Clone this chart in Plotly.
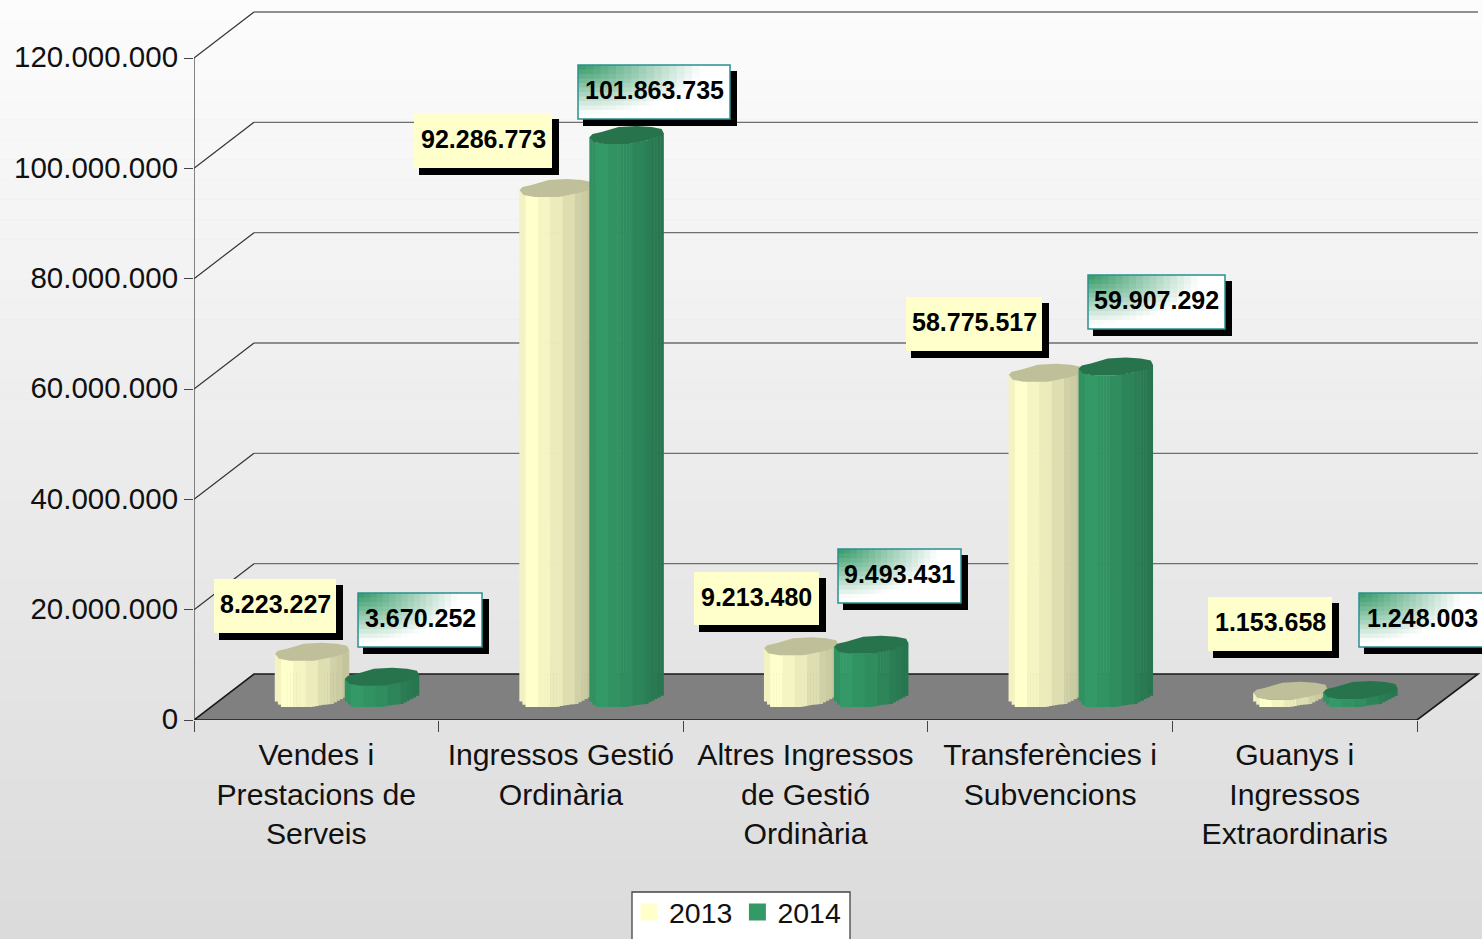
import numpy as np
import plotly.graph_objects as go

# ---- data ----
categories = ["Vendes i<br>Prestacions de<br>Serveis", "Ingressos Gestió<br>Ordinària",
              "Altres Ingressos<br>de Gestió<br>Ordinària", "Transferències i<br>Subvencions",
              "Guanys i<br>Ingressos<br>Extraordinaris"]
values_2013 = [8223227, 92286773, 9213480, 58775517, 1153658]
values_2014 = [3670252, 101863735, 9493431, 59907292, 1248003]
y_ticks = [0, 20000000, 40000000, 60000000, 80000000, 100000000, 120000000]

# ---- geometry / style ----
W, H = 1482, 939
AX_L, CAT_W = 194, 244.6
Y0_PX, Y120_PX = 720, 58
SCALE = (Y0_PX - Y120_PX) / 120e6
BAR_Y0_PX = 698
DEPTH_X, DEPTH_Y = 60, 46
BAR_LEFT, BAR_W, BAR_STEP = 81, 74, 70
COL_2013, COL_2014 = (255, 255, 204), (51, 153, 102)
FACETS = [0.95, 0.95, 1.0, 1.0, 1.0, 1.0, 0.96, 0.96, 0.96, 0.96, 0.92, 0.92, 0.92, 0.92,
          0.87, 0.87, 0.87, 0.87, 0.82, 0.82, 0.8, 0.8, 0.77, 0.77]
FONT = "Liberation Sans, Arial, sans-serif"
TOP_OUTLINE = [(0, 1), (3, -2), (12, -4), (29, -9), (47, -10), (62, -9), (72, -7), (74, -3), (70, 1),
               (59, 4), (39, 8), (15, 8), (4, 6)]
TOP_FRONT = ([0, 4, 15, 39, 59, 70, 74], [1, 6, 8, 8, 4, 1, -3])
BOTTOM_FRONT = ([0, 7, 37, 47, 57, 74], [2, 9, 9, 7, 6, -3])
LABEL_BOXES_2013 = [(214, 579, 336, 633), (414, 113, 552, 168), (694, 572, 819, 625), (906, 297, 1042, 351), (1208, 597, 1332, 651)]
LABEL_BOXES_2014 = [(358, 593, 482, 647), (578, 65, 730, 119), (838, 549, 961, 603), (1088, 275, 1225, 329), (1359, 593, 1485, 647)]


def ux(px):
    return (px - AX_L) / CAT_W - 0.5


def rgb(c, f=1.0):
    return "rgb(%d,%d,%d)" % tuple(int(round(v * f)) for v in c)


def fmt(v):
    return f"{v:,}".replace(",", ".")


def paper_x(px):
    return px / W


def paper_y(py):
    return 1 - py / H


fig = go.Figure()

# legend entries and main subplot carrier
fig.add_trace(go.Bar(x=[0], y=[None], name="2013", xaxis="x", yaxis="y",
                     marker=dict(color=rgb(COL_2013), line=dict(color=rgb(COL_2013), width=5))))
fig.add_trace(go.Bar(x=[0], y=[None], name="2014", xaxis="x", yaxis="y",
                     marker=dict(color=rgb(COL_2014), line=dict(color=rgb(COL_2014), width=5))))


def add_cylinder(cat, value, step, color, xa, ya, name):
    left_px = AX_L + cat * CAT_W + BAR_LEFT + step
    n = len(FACETS)
    sw = BAR_W / n
    for i, f in enumerate(FACETS):
        a, b = i * sw, (i + 1) * sw
        top_off = min(np.interp(a, *TOP_FRONT), np.interp(b, *TOP_FRONT))
        bot_off = np.interp((a + b) / 2, *BOTTOM_FRONT)
        base = -bot_off / SCALE
        top = value - top_off / SCALE
        fig.add_trace(go.Bar(x=[ux(left_px + (a + b) / 2)], y=[top - base], base=[base],
                             width=[(sw + 0.5) / CAT_W], xaxis=xa, yaxis=ya, showlegend=False,
                             hoverinfo="skip", name=name,
                             marker=dict(color=rgb(color, f), line=dict(width=0))))
    fig.add_trace(go.Scatter(x=[ux(left_px + p[0]) for p in TOP_OUTLINE],
                             y=[value - p[1] / SCALE for p in TOP_OUTLINE],
                             mode="lines", fill="toself", line=dict(width=0), showlegend=False,
                             fillcolor=rgb(color, 0.75), hoverinfo="skip", xaxis=xa, yaxis=ya, name=name))


for c, v in enumerate(values_2013):
    add_cylinder(c, v, 0, COL_2013, "x", "y2", "2013")
for c, v in enumerate(values_2014):
    add_cylinder(c, v, BAR_STEP, COL_2014, "x2", "y3", "2014")

shapes = []
# background gradient
N_BG = 47
for i in range(N_BG):
    g = 252 + (219 - 252) * (i + 0.5) / N_BG
    shapes.append(dict(type="rect", xref="paper", yref="paper", x0=0, x1=1,
                       y0=1 - i / N_BG, y1=1 - (i + 1) / N_BG, line_width=0,
                       fillcolor=rgb((g, g, g)), layer="below"))
# floor
floor = f"M {ux(AX_L)} 0 L {ux(AX_L + DEPTH_X)} {DEPTH_Y / SCALE} L {ux(1478)} {DEPTH_Y / SCALE} L {ux(1417)} 0 Z"
shapes.append(dict(type="path", path=floor, xref="x", yref="y", fillcolor="#808080",
                   line=dict(color="#1a1a1a", width=1.6), layer="below"))
# walls grid
for t in y_ticks[1:]:
    back = t + DEPTH_Y / SCALE
    shapes.append(dict(type="line", xref="x", yref="y", x0=ux(AX_L), y0=t, x1=ux(AX_L + DEPTH_X), y1=back,
                       line=dict(color="#333333", width=1.2), layer="below"))
    shapes.append(dict(type="line", xref="x", yref="y", x0=ux(AX_L + DEPTH_X), y0=back, x1=ux(1478), y1=back,
                       line=dict(color="#6e6e6e", width=1.3), layer="below"))
# value axis line
shapes.append(dict(type="line", xref="x", yref="y", x0=ux(AX_L), y0=0, x1=ux(AX_L), y1=y_ticks[-1],
                   line=dict(color="#444444", width=1.3), layer="below"))


def rect(x0, y0, x1, y1, fill, line=None):
    return dict(type="rect", xref="paper", yref="paper", x0=paper_x(x0), x1=paper_x(x1),
                y0=paper_y(y0), y1=paper_y(y1), fillcolor=fill,
                line=dict(width=0) if line is None else dict(color=line, width=1.5), layer="above")


annotations = []
for (x0, y0, x1, y1), v in zip(LABEL_BOXES_2013, values_2013):
    shapes.append(rect(x0 + 5, y0 + 6, x1 + 7, y1 + 7, "#000000"))
    shapes.append(rect(x0, y0, x1, y1, rgb(COL_2013)))
    annotations.append((x0, y0, x1, y1, v))

NX, NY = 20, 12
for (x0, y0, x1, y1), v in zip(LABEL_BOXES_2014, values_2014):
    shapes.append(rect(x0 + 5, y0 + 6, x1 + 7, y1 + 7, "#000000"))
    dx, dy = (x1 - x0) / NX, (y1 - y0) / NY
    for i in range(NX):
        for j in range(NY):
            u, w = (i + 0.5) / NX, (j + 0.5) / NY
            t = min(1.0, (u * u + w * w * 0.8) ** 0.5 / 0.82)
            col = tuple(cc + (255 - cc) * t for cc in COL_2014)
            shapes.append(rect(x0 + i * dx, y0 + j * dy, min(x1, x0 + (i + 1) * dx + 1), min(y1, y0 + (j + 1) * dy + 1), rgb(col)))
    shapes.append(dict(type="rect", xref="paper", yref="paper", x0=paper_x(x0), x1=paper_x(x1),
                       y0=paper_y(y0), y1=paper_y(y1), fillcolor="rgba(0,0,0,0)",
                       line=dict(color="#2a9090", width=1.5), layer="above"))
    annotations.append((x0, y0, x1, y1, v))

# legend frame
shapes.append(dict(type="rect", xref="paper", yref="paper", x0=paper_x(632), x1=paper_x(850),
                   y0=paper_y(892), y1=paper_y(945), fillcolor="#ffffff",
                   line=dict(color="#444444", width=1.3), layer="above"))

ann = [dict(text="<b>%s</b>" % fmt(v), xref="paper", yref="paper", x=paper_x((x0 + x1) / 2),
            y=paper_y((y0 + y1) / 2 - 2), xanchor="center", yanchor="middle", showarrow=False,
            font=dict(family=FONT, size=25, color="#000000")) for x0, y0, x1, y1, v in annotations]

dom_y = [(H - Y0_PX) / H, 1]
x_range = [ux(AX_L), ux(W)]
fig.update_layout(
    width=W, height=H, margin=dict(l=0, r=0, t=0, b=0, autoexpand=False),
    barmode="overlay", separators=",.",
    paper_bgcolor="#e8e8e8", plot_bgcolor="rgba(0,0,0,0)",
    font=dict(family=FONT, size=29.5, color="#111111"),
    shapes=shapes, annotations=ann,
    xaxis=dict(domain=[AX_L / W, 1], range=x_range, tickmode="array",
               tickvals=[i - 0.5 for i in range(6)], ticktext=[""] * 6, ticks="outside", ticklen=11,
               tickcolor="#444444", tickwidth=1.3, showgrid=False, zeroline=False, showline=False, anchor="y"),
    xaxis2=dict(domain=[AX_L / W, 1], range=x_range, overlaying="x", tickmode="array",
                tickvals=list(range(5)), ticktext=categories, ticks="outside", ticklen=8,
                tickcolor="rgba(0,0,0,0)", showgrid=False, zeroline=False, showline=False, anchor="y3",
                tickfont=dict(size=30.2)),
    yaxis=dict(domain=dom_y, range=[0, Y0_PX / SCALE], tickmode="array", tickvals=y_ticks, tickformat=",d",
               ticks="outside", ticklen=9, tickcolor="#444444", tickwidth=1.3, showgrid=False, zeroline=False,
               showline=False, anchor="x", tickfont=dict(size=29.5), ticklabelshift=-1),
    yaxis2=dict(domain=dom_y, range=[-(Y0_PX - BAR_Y0_PX) / SCALE, BAR_Y0_PX / SCALE], overlaying="y",
                visible=False, anchor="x"),
    yaxis3=dict(domain=dom_y, range=[-(Y0_PX - BAR_Y0_PX) / SCALE, BAR_Y0_PX / SCALE], overlaying="y",
                visible=False, anchor="x2"),
    legend=dict(orientation="h", x=629 / W, y=paper_y(887), xanchor="left", yanchor="top",
                bgcolor="rgba(0,0,0,0)", borderwidth=0,
                font=dict(size=28.5), itemclick=False, itemdoubleclick=False),
)
fig.write_html("out.html", config=dict(displayModeBar=False),
               post_script="document.body.style.margin='0';document.documentElement.style.overflow='hidden';")
